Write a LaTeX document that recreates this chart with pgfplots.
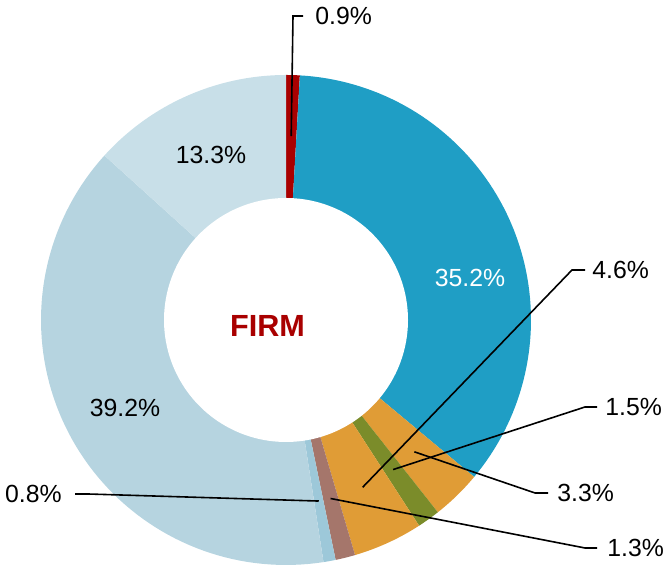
\documentclass[border=0pt]{standalone}
\usepackage{pgfplots}
\usepackage{pgfplotstable}
\usepackage{fontspec}
\setmainfont{Liberation Sans}
\pgfplotsset{compat=1.18}

\definecolor{cRed}{HTML}{A90000}
\definecolor{cBlue}{HTML}{1F9EC5}
\definecolor{cOrange}{HTML}{E09C36}
\definecolor{cOlive}{HTML}{7B8C2A}
\definecolor{cBrown}{HTML}{A5766B}
\definecolor{cSky}{HTML}{9DC8D9}
\definecolor{cPale}{HTML}{B6D4E0}
\definecolor{cPaler}{HTML}{C8DFE8}

% slices clockwise from 12 o'clock
\pgfplotstableread{
value col
0.9  cRed
35.2 cBlue
3.3  cOrange
1.5  cOlive
4.6  cOrange
1.3  cBrown
0.8  cSky
39.2 cPale
13.3 cPaler
}\slices

\pgfplotstablegetrowsof{\slices}
\pgfmathtruncatemacro{\lastrow}{\pgfplotsretval-1}
\gdef\total{0}
\foreach \i in {0,...,\lastrow}{%
  \pgfplotstablegetelem{\i}{value}\of\slices
  \pgfmathparse{\total+\pgfplotsretval}\xdef\total{\pgfmathresult}}
\pgfmathsetmacro{\degper}{360/\total}
\gdef\cum{0}
\foreach \i in {0,...,\lastrow}{%
  \pgfplotstablegetelem{\i}{value}\of\slices
  \let\sval\pgfplotsretval
  \pgfmathsetmacro{\sA}{90-\cum*\degper}
  \pgfmathsetmacro{\sB}{90-(\cum+\sval)*\degper}
  \pgfmathsetmacro{\sM}{(\sA+\sB)/2}
  \expandafter\xdef\csname sa\i\endcsname{\sA}
  \expandafter\xdef\csname ea\i\endcsname{\sB}
  \expandafter\xdef\csname md\i\endcsname{\sM}
  \expandafter\xdef\csname sv\i\endcsname{\sval}
  \pgfplotstablegetelem{\i}{col}\of\slices
  \expandafter\xdef\csname sc\i\endcsname{\pgfplotsretval}
  \pgfmathparse{\cum+\sval}\xdef\cum{\pgfmathresult}}

\newcommand\lbl{\fontsize{12.4}{14}\selectfont}
\newcommand\pct[1]{\pgfmathprintnumber[fixed,fixed zerofill,precision=1,assume math mode=true]{\csname sv#1\endcsname}\%}
\newcommand\leader[5]{%
  \draw[line width=0.8pt] (axis cs:{184*cos(\csname md#1\endcsname)},{184*sin(\csname md#1\endcsname)})
    -- (axis cs:#2,#3) -- (axis cs:#4,#5);}

\begin{document}
\begin{tikzpicture}
\begin{axis}[
  hide axis, scale only axis,
  width=332pt, height=282.5pt,
  xmin=-286, xmax=378, ymin=-245, ymax=320,
  clip=false,
]
\pgfplotsinvokeforeach{0,...,\lastrow}{
  \edef\wedge{\noexpand\addplot[draw=none, fill=\csname sc#1\endcsname,
    domain=\csname ea#1\endcsname:\csname sa#1\endcsname, samples=80, variable=\noexpand\t]
    ({245*cos(\noexpand\t)},{245*sin(\noexpand\t)}) -- (axis cs:0,0) -- cycle;}
  \wedge
}
% hole
\addplot[draw=none, fill=white, domain=0:360, samples=181, variable=\t]
  ({122*cos(\t)},{122*sin(\t)});

\path (rel axis cs:0,0) rectangle (rel axis cs:1,1);

% inner labels
\node[font=\lbl, text=white] at (axis cs:184,42) {\pct{1}};
\node[font=\lbl] at (axis cs:-161,-88) {\pct{7}};
\node[font=\lbl] at (axis cs:-75,165) {\pct{8}};
\node[font=\fontsize{15.3}{18}\selectfont\bfseries, text=cRed] at (axis cs:-18.5,-6) {FIRM};

% leader lines and outer labels
\leader{0}{7}{304}{17}{304}
\node[font=\lbl, anchor=west, inner sep=0pt] at (axis cs:29,304) {\pct{0}};
\leader{4}{286}{50}{299}{50}
\node[font=\lbl, anchor=west, inner sep=0pt] at (axis cs:306,50) {\pct{4}};
\leader{3}{299}{-87}{311}{-87}
\node[font=\lbl, anchor=west, inner sep=0pt] at (axis cs:319,-87) {\pct{3}};
\leader{2}{249}{-173}{262}{-173}
\node[font=\lbl, anchor=west, inner sep=0pt] at (axis cs:271,-173) {\pct{2}};
\leader{5}{299}{-228}{311}{-228}
\node[font=\lbl, anchor=west, inner sep=0pt] at (axis cs:321,-228) {\pct{5}};
\leader{6}{-198}{-174}{-211}{-174}
\node[font=\lbl, anchor=east, inner sep=0pt] at (axis cs:-224,-174) {\pct{6}};
\end{axis}
\end{tikzpicture}
\end{document}
